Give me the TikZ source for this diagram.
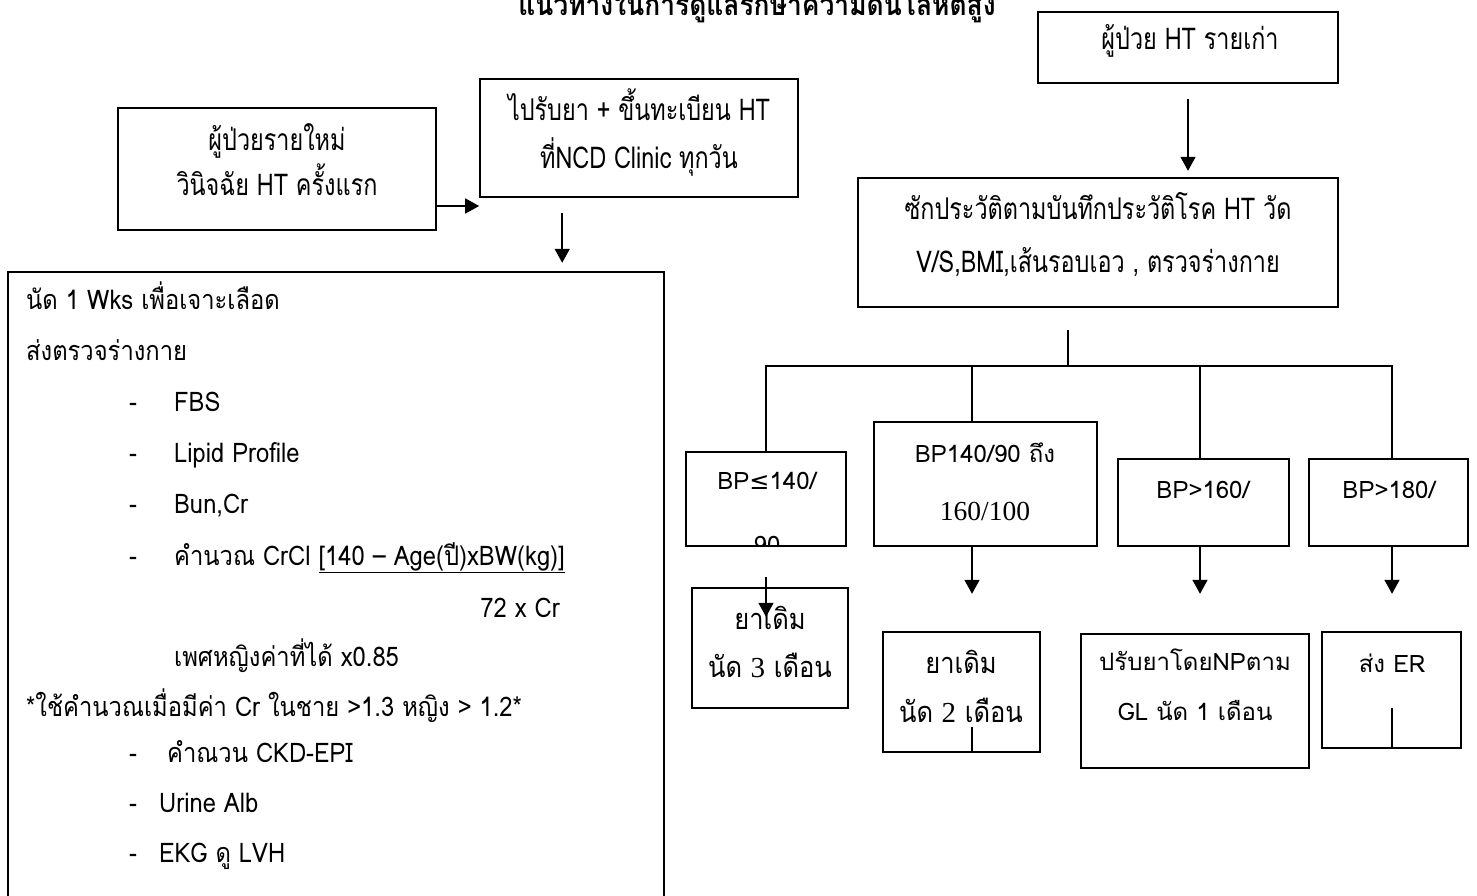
\documentclass[tikz,border=0pt]{standalone}
\usepackage{fontspec}
\usetikzlibrary{arrows.meta,fit,calc}
\newfontfamily\thai[Script=Thai]{Loma}
\newfontfamily\thainarrow[Script=Thai,FakeStretch=0.78]{Loma}
\newfontfamily\thaibody[Script=Thai,FakeStretch=0.88]{Loma}
\newfontfamily\numserif{Liberation Serif}
\newfontfamily\symb{DejaVu Sans}

\begin{document}
\begin{tikzpicture}[x=1pt,y=-1pt,
  box/.style={draw, line width=1.6pt, inner sep=0pt},
  link/.style={line width=1.6pt},
  arrow/.style={line width=1.6pt, -{Triangle[width=15pt,length=14pt]}},
  lbl/.style={anchor=mid, inner sep=0pt},
  item/.style={anchor=mid west, inner sep=0pt},
  titlefont/.style={font=\thaibody\bfseries\fontsize{30}{34}\selectfont},
  narrowfont/.style={font=\thainarrow\fontsize{30}{34}\selectfont},
  keepfont/.style={font=\thaibody\fontsize{29}{33}\selectfont},
  bpfont/.style={font=\thai\fontsize{24}{28}\selectfont},
  bodyfont/.style={font=\thaibody\fontsize{27}{31}\selectfont}]

\useasboundingbox (0,0) rectangle (1477,896);
\clip (0,0) rectangle (1477,896);

% heading
\node[lbl, titlefont] (title) at (757,13) {แนวทางในการดูแลรักษาความดันโลหิตสูง};

% ---- new patients (left column) ----
\node[box, fit={(118,108) (436,230)}] (newpt) {};
\node[lbl, narrowfont] (newpt1) at (277,148) {ผู้ป่วยรายใหม่};
\node[lbl, narrowfont] (newpt2) at (277,193) {วินิจฉัย HT ครั้งแรก};

\node[box, fit={(480,79) (798,197)}] (clinic) {};
\node[lbl, narrowfont] (clinic1) at (639,118) {ไปรับยา + ขึ้นทะเบียน HT};
\node[lbl, narrowfont] (clinic2) at (639,166) {ที่NCD Clinic ทุกวัน};

\draw[arrow] ($(newpt.east)+(0,37)$) -- ($(clinic.west |- newpt.east)+(0,37)$);

\node[box, fit={(8,272) (664,930)}] (workup) {};
\draw[arrow] ($(clinic.south west)+(83,15)$) -- ($(clinic.south west)+(83,65)$);

\node[item, bodyfont] (w1) at (26,307) {นัด 1 Wks เพื่อเจาะเลือด};
\node[item, bodyfont] (w2) at (26,358) {ส่งตรวจร่างกาย};
\node[item, bodyfont] (d3) at (129,409) {-};
\node[item, bodyfont] (w3) at (174,409) {FBS};
\node[item, bodyfont] (d4) at (129,460) {-};
\node[item, bodyfont] (w4) at (174,460) {Lipid Profile};
\node[item, bodyfont] (d5) at (129,511) {-};
\node[item, bodyfont] (w5) at (174,511) {Bun,Cr};
\node[item, bodyfont] (d6) at (129,563) {-};
\node[item, bodyfont] (w6) at (174,563) {คำนวณ CrCl \underline{[140 – Age(ปี)xBW(kg)]}};
\node[anchor=mid east, inner sep=0pt, bodyfont] (w7) at (560,615) {72 x Cr};
\node[item, bodyfont] (w8) at (174,664) {เพศหญิงค่าที่ได้ x0.85};
\node[item, bodyfont] (w9) at (26,714) {*ใช้คำนวณเมื่อมีค่า Cr ในชาย >1.3 หญิง > 1.2*};
\node[item, bodyfont] (d10) at (129,760) {-};
\node[item, bodyfont] (w10) at (167,760) {คำณวน CKD-EPI};
\node[item, bodyfont] (d11) at (129,810) {-};
\node[item, bodyfont] (w11) at (159,810) {Urine Alb};
\node[item, bodyfont] (d12) at (129,860) {-};
\node[item, bodyfont] (w12) at (159,860) {EKG ดู LVH};

% ---- existing patients (right column) ----
\node[box, fit={(1038,12) (1338,83)}] (oldpt) {};
\node[lbl, narrowfont] (oldpt1) at (1190,47) {ผู้ป่วย HT รายเก่า};
\draw[arrow] ($(oldpt.south)+(0,15)$) -- ($(oldpt.south)+(0,87)$);

\node[box, fit={(858,178) (1338,307)}] (hist) {};
\node[lbl, narrowfont] (hist1) at (1098,217) {ซักประวัติตามบันทึกประวัติโรค HT วัด};
\node[lbl, narrowfont] (hist2) at (1098,270) {V/S,BMI,เส้นรอบเอว , ตรวจร่างกาย};

% blood pressure classes
\node[box, fit={(686,452) (846,546)}] (bpa) {};
\node[box, fit={(874,422) (1097,546)}] (bpb) {};
\node[box, fit={(1118,459) (1289,546)}] (bpc) {};
\node[box, fit={(1309,459) (1468,546)}] (bpd) {};

\node[lbl, bpfont] (bpa1) at (767,487) {BP{\symb ≤}140/};
\begin{scope}
  \clip (bpa.north west) rectangle (bpa.south east);
  \node[anchor=base, inner sep=0pt, bpfont] (bpa2) at (767,553) {90};
\end{scope}
\node[lbl, bpfont] (bpb1) at (985,460) {BP140/90 ถึง};
\node[lbl, font=\numserif\fontsize{27.5}{31}\selectfont] (bpb2) at (985,518) {160/100};
\node[lbl, bpfont] (bpc1) at (1203,496) {BP>160/};
\node[lbl, bpfont] (bpd1) at (1389,496) {BP>180/};

% branching lines
\coordinate (hub) at (1068,330);
\coordinate (ca) at (766,366);
\coordinate (cb) at (972,366);
\coordinate (cc) at (1200,366);
\coordinate (cd) at (1392,366);
\draw[link] (hub) -- (hub |- ca);
\draw[link] (ca |- bpa.north) -- (ca) -- (cd) -- (cd |- bpd.north);
\draw[link] (cb) -- (cb |- bpb.north);
\draw[link] (cc) -- (cc |- bpc.north);

% follow-up boxes
\node[box, fit={(692,588) (848,708)}] (keep3) {};
\node[lbl, keepfont] (keep3a) at (770,627) {ยาเดิม};
\node[lbl, keepfont] (keep3b) at (770,675) {นัด {\numserif 3} เดือน};

\node[box, fit={(883,632) (1040,752)}] (keep2) {};
\node[lbl, keepfont] (keep2a) at (961,671) {ยาเดิม};
\node[lbl, keepfont] (keep2b) at (961,720) {นัด {\numserif 2} เดือน};

\node[box, fit={(1081,634) (1309,768)}] (adjust) {};
\node[lbl, bpfont] (adjust1) at (1195,668) {ปรับยาโดยNPตาม};
\node[lbl, bpfont] (adjust2) at (1195,718) {GL นัด 1 เดือน};

\node[box, fit={(1322,632) (1461,748)}] (er) {};
\node[lbl, bpfont] (er1) at (1392,670) {ส่ง ER};

% arrows down to the follow-up boxes
\draw[arrow] ($(ca |- bpa.south)+(0,30)$) -- ++(0,40);
\draw[arrow] (cb |- bpb.south) -- ++(0,47);
\draw[arrow] (cc |- bpc.south) -- ++(0,47);
\draw[arrow] (cd |- bpd.south) -- ++(0,47);

% short strokes rising from the lower edges
\draw[link] (cb |- keep2.south) -- ++(0,-26);
\draw[link] (cd |- er.south) -- ++(0,-41);

\end{tikzpicture}
\end{document}
